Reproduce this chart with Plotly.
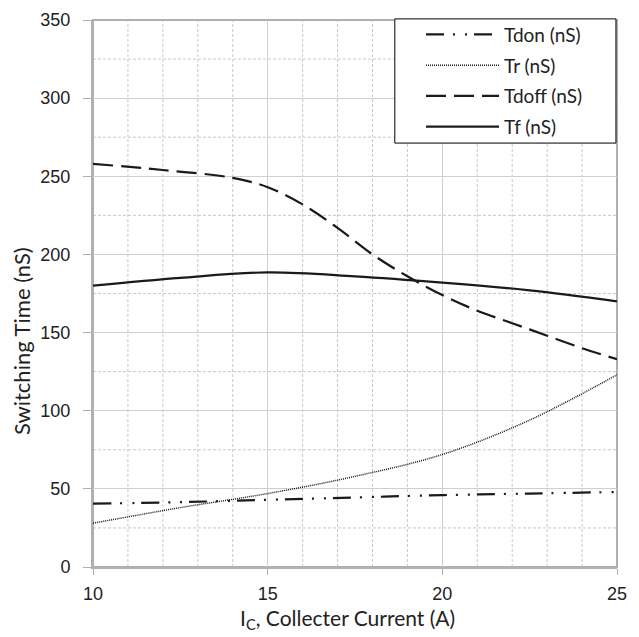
import plotly.graph_objects as go

# Switching characteristics vs collector current
current_a = [10, 12.5, 15, 17.5, 20, 22.5, 25]
t_don = [40.5, 41.5, 43, 44.5, 46, 47, 48]
t_r = [28, 38, 47, 58, 72, 94, 123]

current_off = [10, 12, 14, 15, 16, 17, 18, 19, 20, 21, 22, 23, 24, 25]
t_doff = [258, 254, 249, 243, 232, 217, 200, 186, 174, 164, 156, 148, 140, 133]

current_f = [10, 12.5, 15, 17.5, 20, 22.5, 25]
t_f = [180, 185, 188.5, 186, 182, 177, 170]

x_ticks = [10, 15, 20, 25]
y_ticks = [0, 50, 100, 150, 200, 250, 300, 350]

ink = "#1a1a1a"
fig = go.Figure()
fig.add_trace(go.Scatter(x=current_a, y=t_don, name="Tdon (nS)", mode="lines", legendgroup="a",
                         line=dict(color=ink, width=2.2, shape="spline",
                                   dash="18px,9px,2px,10px,2px,7px")))
fig.add_trace(go.Scatter(x=current_a, y=t_r, name="Tr (nS)", mode="lines", legendgroup="b",
                         line=dict(color=ink, width=1.5, shape="spline", dash="1px,1px")))
fig.add_trace(go.Scatter(x=current_off, y=t_doff, name="Tdoff (nS)", mode="lines", legendgroup="c",
                         line=dict(color=ink, width=2.2, shape="spline", dash="20px,8px")))
fig.add_trace(go.Scatter(x=current_f, y=t_f, name="Tf (nS)", mode="lines", legendgroup="d",
                         line=dict(color=ink, width=2.2, shape="spline")))

# minor dashed grid lines
for xv in range(11, 25):
    if xv % 5:
        fig.add_shape(type="line", xref="x", yref="paper", x0=xv, x1=xv, y0=0, y1=1,
                      line=dict(color="#c8c8c8", width=1, dash="3px,2px"), layer="below")
for yv in range(25, 350, 50):
    fig.add_shape(type="line", xref="paper", yref="y", x0=0, x1=1, y0=yv, y1=yv,
                  line=dict(color="#c8c8c8", width=1, dash="3px,2px"), layer="below")

# plot frame
fig.add_shape(type="rect", xref="paper", yref="paper", x0=0, x1=1, y0=0, y1=1,
              line=dict(color="#b0b0b0", width=2), layer="below")
# white legend panel with black border
fig.add_shape(type="rect", xref="paper", yref="paper", x0=0.576, x1=0.998, y0=0.775, y1=1.002,
              line=dict(color="#000", width=1), fillcolor="white", layer="above")

tick_font = dict(family="Liberation Sans, Arial, sans-serif", size=18, color="#222")
title_family = "Lato, Open Sans, sans-serif"

fig.update_layout(
    width=639, height=637,
    margin=dict(l=93, r=22, t=20, b=70),
    paper_bgcolor="white", plot_bgcolor="white",
    showlegend=True,
    legend=dict(x=0.626, y=1.008, xanchor="left", yanchor="top",
                borderwidth=0, bgcolor="rgba(0,0,0,0)",
                font=dict(family=title_family, size=19, color="#222"),
                tracegroupgap=3, itemwidth=73),
    xaxis=dict(range=[10, 25], tickvals=x_ticks, ticks="outside", ticklen=6,
               tickcolor="#b0b0b0", showline=True, linecolor="#b0b0b0", linewidth=2,
               showgrid=True, gridcolor="#cfcfcf", gridwidth=1, zeroline=False,
               tickfont=tick_font, automargin=False, ticklabelstandoff=3),
    yaxis=dict(range=[0, 350], tickvals=y_ticks, ticks="outside", ticklen=8,
               tickcolor="#b0b0b0", showline=True, linecolor="#b0b0b0", linewidth=2,
               showgrid=True, gridcolor="#cfcfcf", gridwidth=1, zeroline=False,
               tickfont=tick_font, automargin=False, ticklabelstandoff=9),
    annotations=[
        dict(text="I<sub>C</sub>, Collecter Current (A)", xref="paper", yref="paper",
             x=0.485, y=0, xanchor="center", yanchor="top", yshift=-36,
             showarrow=False, font=dict(family=title_family, size=21, color="#222")),
        dict(text="Switching Time (nS)", xref="paper", yref="paper",
             x=0, y=0.413, xanchor="center", yanchor="middle", xshift=-72, textangle=-90,
             showarrow=False, font=dict(family=title_family, size=22, color="#222")),
    ],
)

fig.write_html("out.html")
